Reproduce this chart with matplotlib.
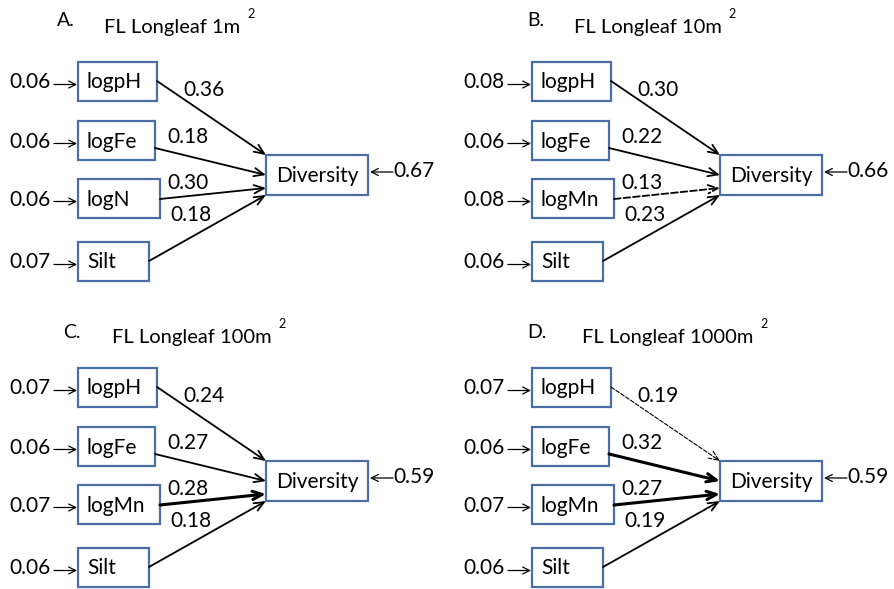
import matplotlib
matplotlib.use("Agg")
import matplotlib.pyplot as plt
from matplotlib.patches import Rectangle

plt.rcParams['font.family'] = ['Lato', 'DejaVu Sans']

# ---- data ----
panel_letters = ['A.', 'B.', 'C.', 'D.']
panel_titles = ['FL Longleaf 1m', 'FL Longleaf 10m', 'FL Longleaf 100m', 'FL Longleaf 1000m']
predictors = [['logpH', 'logFe', 'logN', 'Silt'],
              ['logpH', 'logFe', 'logMn', 'Silt'],
              ['logpH', 'logFe', 'logMn', 'Silt'],
              ['logpH', 'logFe', 'logMn', 'Silt']]
path_coefs = [[0.36, 0.18, 0.30, 0.18],
              [0.30, 0.22, 0.13, 0.23],
              [0.24, 0.27, 0.28, 0.18],
              [0.19, 0.32, 0.27, 0.19]]
predictor_errors = [[0.06, 0.06, 0.06, 0.07],
                    [0.08, 0.06, 0.08, 0.06],
                    [0.07, 0.06, 0.07, 0.06],
                    [0.07, 0.06, 0.07, 0.06]]
diversity_errors = [0.67, 0.66, 0.59, 0.59]

# ---- styles (line style, width) of each path ----
path_styles = [[('-', 1.3), ('-', 1.3), ('-', 1.3), ('-', 1.3)],
               [('-', 1.3), ('-', 1.3), ('--', 1.3), ('-', 1.3)],
               [('-', 1.3), ('-', 1.3), ('-', 2.2), ('-', 1.3)],
               [('--', 0.8), ('-', 2.2), ('-', 2.2), ('-', 1.3)]]

# ---- layout in pixels (relative to each panel's origin) ----
panel_origin = [(0, 0), (454, 0), (0, 306), (454, 306)]
box_w = {'logpH': 79, 'logFe': 77, 'logN': 82, 'logMn': 82, 'Silt': 71}
box_left, box_h = 78, 39
box_top = [62, 121, 179, 242]
start_y = [81, 148, 199, 261]
end_y = [155, 175, 188, 195]
coef_xy = [(183, 90), (167, 137), (167, 183), (170, 215)]
div_box = (266, 155, 102, 40)
letter_xy = [(57, 20), (73, 20), (63, 27), (73, 27)]
title_xy = [(104, 28), (120, 28), (112, 32), (128, 32)]
box_color = '#4a6ea6'
fs = 15

fig = plt.figure(figsize=(8.94, 5.89), dpi=100)
ax = fig.add_axes([0, 0, 1, 1])
ax.set_xlim(0, 894)
ax.set_ylim(589, 0)
ax.axis('off')

for p in range(4):
    ox, oy = panel_origin[p]
    # title
    lx, ly = letter_xy[p]
    ax.text(ox + lx, oy + ly, panel_letters[p], fontsize=fs - 1, ha='left', va='center')
    tx, ty = title_xy[p]
    t = ax.text(ox + tx, oy + ty, panel_titles[p], fontsize=fs - 0.5, ha='left', va='center')
    ax.annotate('2', xy=(1, 1), xycoords=t, xytext=(5, 0), textcoords='offset points',
                fontsize=9, ha='left', va='bottom')

    # diversity box
    dx, dy, dw, dh = div_box
    ax.add_patch(Rectangle((ox + dx, oy + dy), dw, dh, fill=False, ec=box_color, lw=1.6))
    ax.text(ox + dx + 10, oy + dy + dh / 2 + 1, 'Diversity', fontsize=fs, ha='left', va='center')
    ey = oy + dy + dh / 2 - 3
    ax.annotate('', xy=(ox + dx + dw + 2, ey), xytext=(ox + dx + dw + 25, ey),
                arrowprops=dict(arrowstyle='->, head_length=0.5, head_width=0.25',
                                lw=0.9, color='black', shrinkA=0, shrinkB=0))
    ax.text(ox + dx + dw + 25, ey - 1, f'{diversity_errors[p]:.2f}', fontsize=fs,
            ha='left', va='center')

    for i, name in enumerate(predictors[p]):
        w = box_w[name]
        top = oy + box_top[i]
        ax.add_patch(Rectangle((ox + box_left, top), w, box_h, fill=False, ec=box_color, lw=1.6))
        ax.text(ox + box_left + 9, top + box_h / 2 + 1, name, fontsize=fs, ha='left', va='center')

        # error arrow into predictor
        ay = top + box_h / 2 + 3
        ax.annotate('', xy=(ox + box_left - 1, ay), xytext=(ox + 54, ay),
                    arrowprops=dict(arrowstyle='->, head_length=0.5, head_width=0.25',
                                    lw=0.9, color='black', shrinkA=0, shrinkB=0))
        ax.text(ox + 51, ay - 2, f'{predictor_errors[p][i]:.2f}', fontsize=fs,
                ha='right', va='center')

        # path to diversity
        ls, lw = path_styles[p][i]
        ax.annotate('', xy=(ox + dx, oy + end_y[i]), xytext=(ox + box_left + w, oy + start_y[i]),
                    arrowprops=dict(arrowstyle='->, head_length=0.7, head_width=0.3',
                                    lw=lw, ls=ls, color='black', shrinkA=0, shrinkB=0))
        cx, cy = coef_xy[i]
        ax.text(ox + cx, oy + cy, f'{path_coefs[p][i]:.2f}', fontsize=fs, ha='left', va='center')

fig.savefig('out.png', dpi=100)
